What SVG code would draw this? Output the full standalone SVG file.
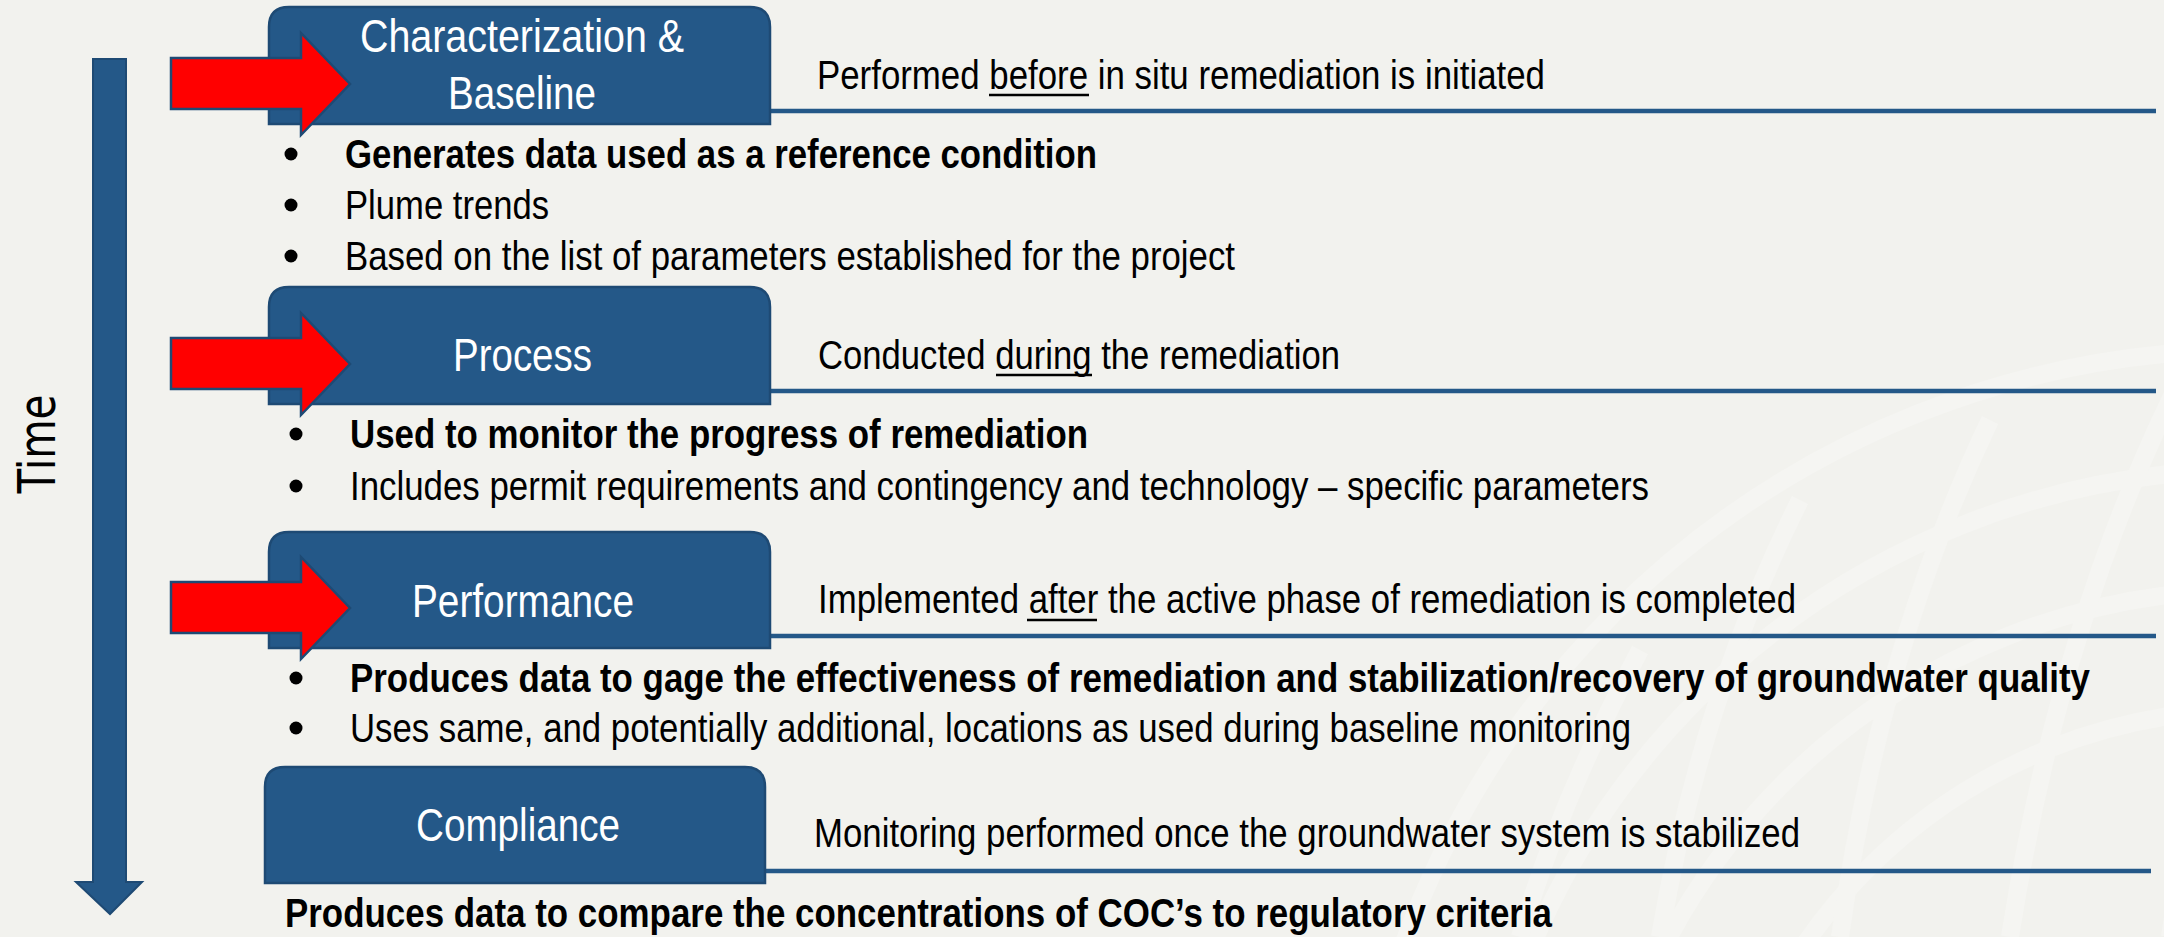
<svg xmlns="http://www.w3.org/2000/svg" width="2164" height="937" viewBox="0 0 2164 937">
<defs>
<style>
.bg{fill:#F2F2EE}
.wm{fill:none;stroke:#F5F5F2;stroke-width:18}
.box{fill:#245888;stroke:#1E4A74;stroke-width:2.5}
.ttl{font-family:"Liberation Sans",Arial,sans-serif;font-size:46px;fill:#FFFFFF}
.desc{font-family:"Liberation Sans",Arial,sans-serif;font-size:40px;fill:#000000}
.b{font-weight:bold}
.rule{stroke:#245888;stroke-width:4.5}
.ul{stroke:#000000;stroke-width:2.5}
.arr{fill:#FF0000;stroke:#1E4A74;stroke-width:2.5;stroke-linejoin:miter}
.dot{fill:#000000}
.axis{fill:#245888;stroke:#1E4A74;stroke-width:2}
.time{font-family:"DejaVu Sans",Verdana,sans-serif;font-size:52px;fill:#000000}
</style>
<clipPath id="wmclip"><circle cx="2250" cy="1250" r="912"/></clipPath>
</defs>
<rect class="bg" x="0" y="0" width="2164" height="937"/>
<g id="watermark" clip-path="url(#wmclip)">
<circle class="wm" cx="2250" cy="1250" r="540"/>
<circle class="wm" cx="2250" cy="1250" r="660"/>
<circle class="wm" cx="2250" cy="1250" r="780"/>
<circle class="wm" cx="2250" cy="1250" r="900"/>
<path class="wm" d="M1640 650 Q1560 800 1520 937"/>
<path class="wm" d="M1800 500 Q1700 700 1660 937"/>
<path class="wm" d="M1990 420 Q1880 650 1840 937"/>
<path class="wm" d="M2180 380 Q2060 620 2010 937"/>
<path class="wm" d="M2300 360 Q2220 600 2170 937"/>
</g>
<g id="time-axis">
<path class="axis" d="M93 59 H126 V882 H142 L110 914 L76 882 H93 Z"/>
<text class="time" transform="translate(55,444) rotate(-90)" text-anchor="middle" textLength="99" lengthAdjust="spacingAndGlyphs">Time</text>
</g>
<g id="connectors">
<line class="rule" x1="770" y1="111" x2="2156" y2="111"/>
<line class="rule" x1="770" y1="391" x2="2156" y2="391"/>
<line class="rule" x1="770" y1="636" x2="2156" y2="636"/>
<line class="rule" x1="765" y1="871" x2="2151" y2="871"/>
</g>
<g id="node-characterization">
<path class="box" d="M269 124 V27 Q269 7 289 7 H750 Q770 7 770 27 V124 Z"/>
<polygon class="arr" points="171,58 301,58 301,33 350,84 301,135 301,109 171,109"/>
<text class="ttl" x="360" y="52" textLength="324" lengthAdjust="spacingAndGlyphs">Characterization &amp;</text>
<text class="ttl" x="448" y="109" textLength="148" lengthAdjust="spacingAndGlyphs">Baseline</text>
<text class="desc" x="817" y="89" textLength="728" lengthAdjust="spacingAndGlyphs">Performed before in situ remediation is initiated</text>
<line class="ul" x1="989" y1="95" x2="1089" y2="95"/>
<circle class="dot" cx="291" cy="154" r="6.5"/>
<text class="desc b" x="345" y="168" textLength="752" lengthAdjust="spacingAndGlyphs">Generates data used as a reference condition</text>
<circle class="dot" cx="291" cy="205" r="6.5"/>
<text class="desc" x="345" y="219" textLength="204" lengthAdjust="spacingAndGlyphs">Plume trends</text>
<circle class="dot" cx="291" cy="256" r="6.5"/>
<text class="desc" x="345" y="270" textLength="890" lengthAdjust="spacingAndGlyphs">Based on the list of parameters established for the project</text>
</g>
<g id="node-process">
<path class="box" d="M269 404 V307 Q269 287 289 287 H750 Q770 287 770 307 V404 Z"/>
<polygon class="arr" points="171,338 301,338 301,313 350,364 301,415 301,389 171,389"/>
<text class="ttl" x="453" y="371" textLength="139" lengthAdjust="spacingAndGlyphs">Process</text>
<text class="desc" x="818" y="369" textLength="522" lengthAdjust="spacingAndGlyphs">Conducted during the remediation</text>
<line class="ul" x1="996" y1="375" x2="1092" y2="375"/>
<circle class="dot" cx="296" cy="434" r="6.5"/>
<text class="desc b" x="350" y="448" textLength="738" lengthAdjust="spacingAndGlyphs">Used to monitor the progress of remediation</text>
<circle class="dot" cx="296" cy="486" r="6.5"/>
<text class="desc" x="350" y="500" textLength="1299" lengthAdjust="spacingAndGlyphs">Includes permit requirements and contingency and technology – specific parameters</text>
</g>
<g id="node-performance">
<path class="box" d="M269 648 V552 Q269 532 289 532 H750 Q770 532 770 552 V648 Z"/>
<polygon class="arr" points="171,582 301,582 301,557 350,608 301,659 301,633 171,633"/>
<text class="ttl" x="412" y="617" textLength="222" lengthAdjust="spacingAndGlyphs">Performance</text>
<text class="desc" x="818" y="613" textLength="978" lengthAdjust="spacingAndGlyphs">Implemented after the active phase of remediation is completed</text>
<line class="ul" x1="1027" y1="620" x2="1097" y2="620"/>
<circle class="dot" cx="296" cy="678" r="6.5"/>
<text class="desc b" x="350" y="692" textLength="1740" lengthAdjust="spacingAndGlyphs">Produces data to gage the effectiveness of remediation and stabilization/recovery of groundwater quality</text>
<circle class="dot" cx="296" cy="728" r="6.5"/>
<text class="desc" x="350" y="742" textLength="1281" lengthAdjust="spacingAndGlyphs">Uses same, and potentially additional, locations as used during baseline monitoring</text>
</g>
<g id="node-compliance">
<path class="box" d="M265 883 V787 Q265 767 285 767 H745 Q765 767 765 787 V883 Z"/>
<text class="ttl" x="416" y="841" textLength="204" lengthAdjust="spacingAndGlyphs">Compliance</text>
<text class="desc" x="814" y="847" textLength="986" lengthAdjust="spacingAndGlyphs">Monitoring performed once the groundwater system is stabilized</text>
<text class="desc b" x="285" y="927" textLength="1267" lengthAdjust="spacingAndGlyphs">Produces data to compare the concentrations of COC’s to regulatory criteria</text>
</g>
</svg>
